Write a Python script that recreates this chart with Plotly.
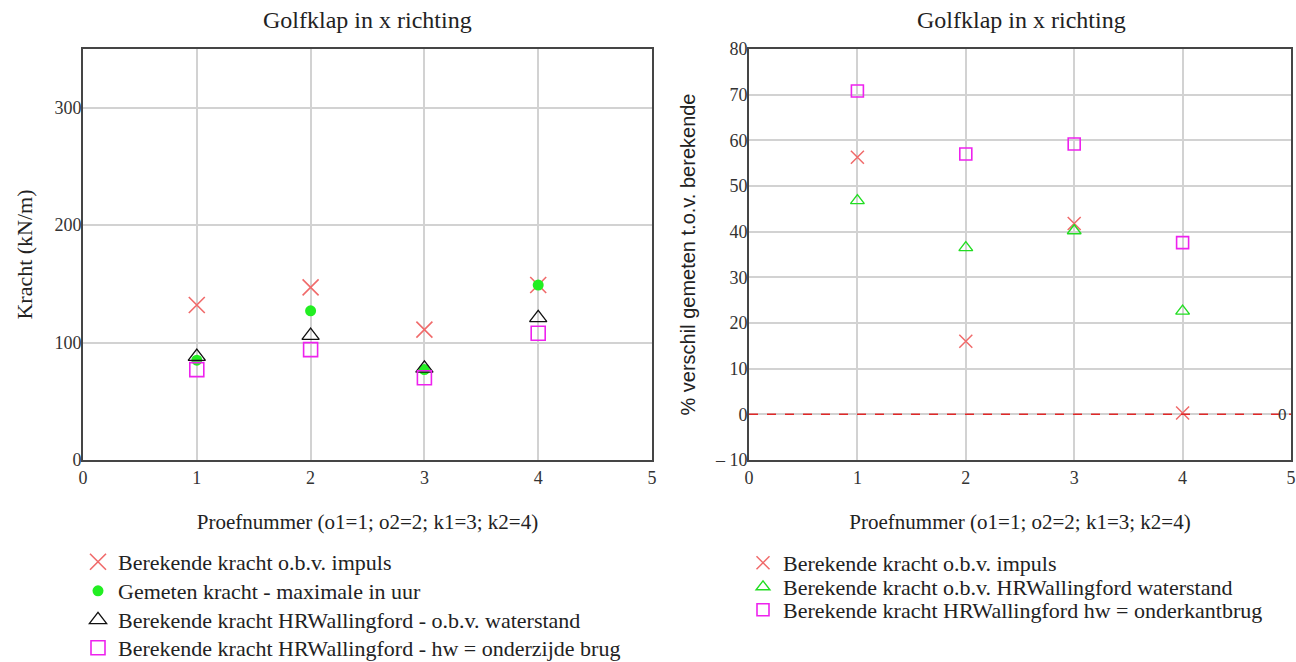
import plotly.graph_objects as go

# ---------------- data ----------------
proef = [1, 2, 3, 4]

# left chart: Kracht (kN/m)
impuls_kracht = [132, 147, 111, 149]
gemeten_kracht = [85, 127, 77, 149]
hrw_waterstand = [88, 106, 78, 121]
hrw_onderzijde = [77, 94, 70, 108]

# right chart: % verschil gemeten t.o.v. berekende
pct_impuls = [56.3, 16, 41.8, 0.3]
pct_hrw_waterstand = [46.8, 36.5, 40.2, 22.6]
pct_hrw_onderkant = [70.8, 57, 59.2, 37.6]

x_ticks = [0, 1, 2, 3, 4, 5]
left_yticks = [0, 100, 200, 300]
right_yticks = [-10, 0, 10, 20, 30, 40, 50, 60, 70, 80]
right_ytick_text = ["\u2013 10", "0", "10", "20", "30", "40", "50", "60", "70", "80"]

# ---------------- geometry / styling ----------------
W, H = 1296, 700          # figure slightly taller than the window so legends never push margins
OFF = 0                   # body margin removed via post_script

SERIF = "Liberation Serif"
SANS = "Liberation Sans"
RED = "#f06a6a"
LIME = "#22ee22"
GREEN = "#22dd22"
MAGENTA = "#ee22ee"
GRID = "#d2d2d2"
FRAME = "#454545"
TXT = "#222222"


def fx(p):  # screen px -> paper x
    return (p - OFF) / W


def fy(p):  # screen px -> paper y
    return 1 - (p - OFF) / H


fig = go.Figure()

# left traces
fig.add_trace(go.Scatter(x=proef, y=impuls_kracht, mode="markers",
                         name="Berekende kracht o.b.v. impuls",
                         marker=dict(symbol="x-thin-open", size=16, color=RED, line=dict(color=RED, width=1.6)),
                         xaxis="x", yaxis="y", legend="legend"))
fig.add_trace(go.Scatter(x=proef, y=gemeten_kracht, mode="markers",
                         name="Gemeten kracht - maximale in uur",
                         marker=dict(symbol="circle", size=11, color=LIME),
                         xaxis="x", yaxis="y", legend="legend2"))
fig.add_trace(go.Scatter(x=proef, y=hrw_waterstand, mode="markers",
                         name="Berekende kracht HRWallingford - o.b.v. waterstand",
                         marker=dict(symbol="triangle-up-open", size=15, color="#111111", line=dict(width=1.3)),
                         xaxis="x", yaxis="y", legend="legend3"))
fig.add_trace(go.Scatter(x=proef, y=hrw_onderzijde, mode="markers",
                         name="Berekende kracht HRWallingford - hw = onderzijde brug",
                         marker=dict(symbol="square-open", size=14, color=MAGENTA, line=dict(width=1.6)),
                         xaxis="x", yaxis="y", legend="legend4"))

# right traces
fig.add_trace(go.Scatter(x=proef, y=pct_impuls, mode="markers",
                         name="Berekende kracht o.b.v. impuls",
                         marker=dict(symbol="x-thin-open", size=13, color=RED, line=dict(color=RED, width=1.5)),
                         xaxis="x2", yaxis="y2", legend="legend5"))
fig.add_trace(go.Scatter(x=proef, y=pct_hrw_waterstand, mode="markers",
                         name="Berekende kracht o.b.v. HRWallingford waterstand",
                         marker=dict(symbol="triangle-up-open", size=12, color=GREEN, line=dict(width=1.4)),
                         xaxis="x2", yaxis="y2", legend="legend6"))
fig.add_trace(go.Scatter(x=proef, y=pct_hrw_onderkant, mode="markers",
                         name="Berekende kracht HRWallingford hw = onderkantbrug",
                         marker=dict(symbol="square-open", size=12, color=MAGENTA, line=dict(width=1.6)),
                         xaxis="x2", yaxis="y2", legend="legend7"))

# zero reference line on right chart
fig.add_shape(type="line", xref="x2 domain", yref="y2", x0=0, x1=1, y0=0, y1=0,
              line=dict(color="#e02828", width=1.5, dash="dash"))

axis_common = dict(showline=True, linecolor=FRAME, linewidth=2, mirror=True,
                   showgrid=True, gridcolor=GRID, gridwidth=1.5, zeroline=False,
                   ticks="", tickfont=dict(family=SERIF, size=18, color="#333333"),
                   automargin=False)

ydom = [fy(460), fy(49)]


def legend_at(x_px, y_px):
    return dict(x=fx(x_px), y=fy(y_px), xanchor="left", yanchor="middle",
                font=dict(family=SERIF, size=22, color=TXT),
                bgcolor="rgba(0,0,0,0)", itemwidth=30)


LEFT_LX = 78     # legend box left (screen px)
RIGHT_LX = 743

fig.update_layout(
    width=W, height=H,
    margin=dict(l=0, r=0, t=0, b=0),
    paper_bgcolor="white", plot_bgcolor="white",
    showlegend=True,
    xaxis=dict(domain=[fx(83), fx(652)], range=[0, 5], tickvals=x_ticks,
               title=dict(text="Proefnummer (o1=1; o2=2; k1=3; k2=4)",
                          font=dict(family=SERIF, size=21, color=TXT), standoff=28),
               **axis_common),
    yaxis=dict(domain=ydom, range=[0, 350], tickvals=left_yticks, ticklabelstandoff=-4,
               title=dict(text="Kracht (kN/m)", font=dict(family=SERIF, size=22, color=TXT), standoff=16),
               **axis_common),
    xaxis2=dict(domain=[fx(749), fx(1291)], range=[0, 5], tickvals=x_ticks, anchor="y2",
                title=dict(text="Proefnummer (o1=1; o2=2; k1=3; k2=4)",
                           font=dict(family=SERIF, size=21, color=TXT), standoff=28),
                **axis_common),
    yaxis2=dict(domain=ydom, range=[-10, 80], tickvals=right_yticks, ticktext=right_ytick_text, anchor="x2",
                ticklabelstandoff=-4,
                title=dict(text="% verschil gemeten t.o.v. berekende",
                           font=dict(family=SANS, size=20, color=TXT), standoff=14),
                **axis_common),
    legend=legend_at(LEFT_LX, 562),
    legend2=legend_at(LEFT_LX, 591),
    legend3=legend_at(LEFT_LX, 620),
    legend4=legend_at(LEFT_LX, 648),
    legend5=legend_at(RIGHT_LX, 563),
    legend6=legend_at(RIGHT_LX, 587),
    legend7=legend_at(RIGHT_LX, 610),
    annotations=[
        dict(text="Golfklap in x richting", x=fx(367), y=fy(20), xref="paper", yref="paper",
             xanchor="center", yanchor="middle",
             showarrow=False, font=dict(family=SERIF, size=24, color=TXT)),
        dict(text="Golfklap in x richting", x=fx(1021), y=fy(20), xref="paper", yref="paper",
             xanchor="center", yanchor="middle",
             showarrow=False, font=dict(family=SERIF, size=24, color=TXT)),
        dict(text="0", x=1, xref="x2 domain", y=0, yref="y2", xanchor="right", yanchor="middle",
             showarrow=False, xshift=-2, font=dict(family=SERIF, size=17, color="#333333")),
    ],
)

fig.write_html(
    "out.html",
    config={"displayModeBar": False},
    post_script="document.body.style.margin='0';document.body.style.overflow='hidden';",
)
